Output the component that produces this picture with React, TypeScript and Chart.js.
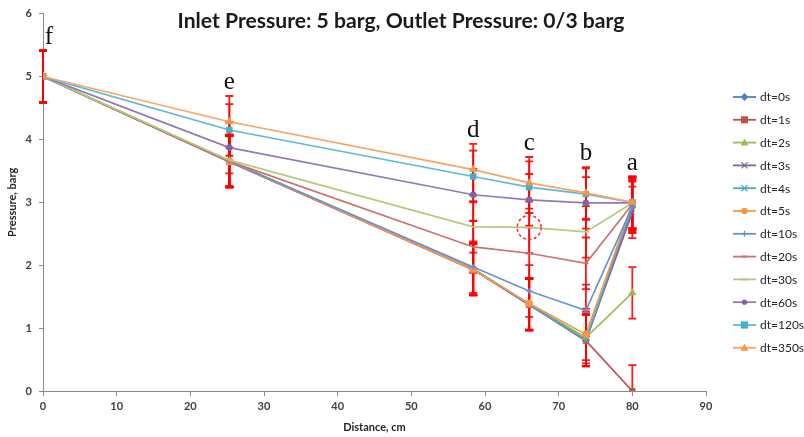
import React, { useEffect, useRef } from 'react';
import { Chart, registerables } from 'chart.js';

Chart.register(...registerables);

// ---------- data ----------
const distances = [0, 25.3, 58.4, 66, 73.7, 80];
const pointLetters = ['f', 'e', 'd', 'c', 'b', 'a'];
const errorMargins = [0.41, 0.41, 0.41, 0.41, 0.41, 0.41];

const seriesLabels = ['dt=0s', 'dt=1s', 'dt=2s', 'dt=3s', 'dt=4s', 'dt=5s', 'dt=10s', 'dt=20s', 'dt=30s', 'dt=60s', 'dt=120s', 'dt=350s'];

const dt0 = [5, 3.65, 1.94, 1.38, 0.8, 2.92];
const dt1 = [5, 3.64, 1.93, 1.37, 0.8, 0.0];
const dt2 = [5, 3.66, 1.94, 1.38, 0.85, 1.56];
const dt3 = [5, 3.65, 1.93, 1.37, 0.81, 2.84];
const dt4 = [5, 3.65, 1.94, 1.38, 0.81, 2.95];
const dt5 = [5, 3.65, 1.93, 1.39, 0.9, 2.98];
const dt10 = [5, 3.65, 1.97, 1.59, 1.28, 2.93];
const dt20 = [5, 3.65, 2.29, 2.19, 2.03, 2.97];
const dt30 = [5, 3.67, 2.61, 2.6, 2.53, 2.99];
const dt60 = [5, 3.87, 3.12, 3.04, 2.99, 2.99];
const dt120 = [5, 4.15, 3.41, 3.24, 3.13, 3.0];
const dt350 = [5, 4.28, 3.52, 3.31, 3.15, 3.0];

const seriesValues = [dt0, dt1, dt2, dt3, dt4, dt5, dt10, dt20, dt30, dt60, dt120, dt350];

const highlightPoint = { x: 66, y: 2.6 };

const xTicks = { min: 0, max: 90, step: 10 };
const yTicks = { min: 0, max: 6, step: 1 };

const titleText = 'Inlet Pressure: 5 barg, Outlet Pressure: 0/3 barg';
const xAxisTitle = 'Distance, cm';
const yAxisTitle = 'Pressure, barg';

// ---------- styles ----------
const lineColors = ['#4F81BD', '#C0504D', '#9BBB59', '#8064A2', '#4BACC6', '#F79646', '#6A93CE', '#C9726F', '#B2CB7E', '#9479B7', '#5CBAD5', '#F9A464'];
const markerColors = ['#4F81BD', '#C0504D', '#9BBB59', '#8064A2', '#4BACC6', '#F79646', '#6A93CE', '#C9726F', '#B2CB7E', '#8064A2', '#4BACC6', '#F79646'];
const markerStyles = ['rectRot', 'rect', 'triangle', 'crossRot', 'crossRot', 'circle', 'cross', 'dash', 'dash', 'circle', 'rect', 'triangle'];
const markerRadii = [3, 3.5, 3.5, 3, 3, 3.2, 3, 2.5, 3, 2.6, 3.6, 3.6];

const FONT = 'Lato, "Open Sans", "Liberation Sans", sans-serif';

function drawMarker(ctx: CanvasRenderingContext2D, style: string, x: number, y: number, r: number, color: string) {
  ctx.save();
  ctx.fillStyle = color;
  ctx.strokeStyle = color;
  ctx.lineWidth = 1.3;
  ctx.beginPath();
  switch (style) {
    case 'circle':
      ctx.arc(x, y, r, 0, Math.PI * 2);
      ctx.fill();
      break;
    case 'rect':
      ctx.rect(x - r, y - r, 2 * r, 2 * r);
      ctx.fill();
      break;
    case 'rectRot':
      ctx.moveTo(x, y - r * 1.3);
      ctx.lineTo(x + r * 1.3, y);
      ctx.lineTo(x, y + r * 1.3);
      ctx.lineTo(x - r * 1.3, y);
      ctx.closePath();
      ctx.fill();
      break;
    case 'triangle':
      ctx.moveTo(x, y - r * 1.2);
      ctx.lineTo(x + r * 1.1, y + r * 0.8);
      ctx.lineTo(x - r * 1.1, y + r * 0.8);
      ctx.closePath();
      ctx.fill();
      break;
    case 'cross':
      ctx.moveTo(x - r, y); ctx.lineTo(x + r, y);
      ctx.moveTo(x, y - r); ctx.lineTo(x, y + r);
      ctx.stroke();
      break;
    case 'crossRot':
      ctx.moveTo(x - r, y - r); ctx.lineTo(x + r, y + r);
      ctx.moveTo(x + r, y - r); ctx.lineTo(x - r, y + r);
      ctx.stroke();
      break;
    case 'dash':
      ctx.lineWidth = 2;
      ctx.moveTo(x - r, y); ctx.lineTo(x + r, y);
      ctx.stroke();
      break;
  }
  ctx.restore();
}

const overlayPlugin = {
  id: 'overlay',
  beforeDatasetsDraw(chart: any) {
    const { ctx, chartArea, scales } = chart;
    const xs = scales.x, ys = scales.y;
    ctx.save();
    ctx.beginPath();
    ctx.rect(chartArea.left - 10, chartArea.top - 10, chartArea.width + 20, chartArea.height + 10);
    ctx.clip();
    ctx.strokeStyle = 'rgba(255,0,0,0.9)';
    ctx.lineWidth = 1.8;
    seriesValues.forEach((vals) => {
      vals.forEach((v, i) => {
        const px = xs.getPixelForValue(distances[i]);
        const e = errorMargins[i];
        const top = ys.getPixelForValue(v + e);
        const bot = ys.getPixelForValue(v - e);
        ctx.beginPath();
        ctx.moveTo(px, top); ctx.lineTo(px, bot);
        ctx.moveTo(px - 4, top); ctx.lineTo(px + 4, top);
        ctx.moveTo(px - 4, bot); ctx.lineTo(px + 4, bot);
        ctx.stroke();
      });
    });
    ctx.restore();
  },
  afterDraw(chart: any) {
    const { ctx, chartArea, scales } = chart;
    const xs = scales.x, ys = scales.y;
    ctx.save();

    // title
    let size = 19;
    ctx.font = `bold ${size}px ${FONT}`;
    const w = ctx.measureText(titleText).width;
    size = size * 447 / w;
    ctx.font = `bold ${size}px ${FONT}`;
    ctx.fillStyle = '#1a1a1a';
    ctx.textAlign = 'center';
    ctx.textBaseline = 'middle';
    ctx.fillText(titleText, 401, 21);

    // letters
    ctx.font = '25px "Liberation Serif", "DejaVu Serif", serif';
    ctx.fillStyle = '#111';
    ctx.textBaseline = 'alphabetic';
    distances.forEach((d, i) => {
      let maxV = -Infinity;
      seriesValues.forEach((vals) => { maxV = Math.max(maxV, vals[i] + errorMargins[i]); });
      const px = Math.max(xs.getPixelForValue(d), chartArea.left + 6);
      const py = ys.getPixelForValue(maxV) - 7;
      ctx.fillText(pointLetters[i], px, py);
    });

    // dashed circle
    ctx.strokeStyle = '#FF2020';
    ctx.lineWidth = 1.5;
    ctx.setLineDash([3, 2.5]);
    ctx.beginPath();
    ctx.arc(xs.getPixelForValue(highlightPoint.x), ys.getPixelForValue(highlightPoint.y), 12, 0, Math.PI * 2);
    ctx.stroke();
    ctx.setLineDash([]);

    // legend
    const lx = chartArea.right + 27;
    const ly = 97;
    const step = 22.8;
    ctx.font = `12px ${FONT}`;
    ctx.textAlign = 'left';
    ctx.textBaseline = 'middle';
    seriesLabels.forEach((label, i) => {
      const y = ly + i * step;
      ctx.strokeStyle = lineColors[i];
      ctx.lineWidth = 1.8;
      ctx.beginPath();
      ctx.moveTo(lx, y); ctx.lineTo(lx + 23, y);
      ctx.stroke();
      drawMarker(ctx, markerStyles[i], lx + 11.5, y, markerRadii[i], markerColors[i]);
      ctx.fillStyle = '#262626';
      ctx.fillText(label, lx + 27, y + 0.5);
    });
    ctx.restore();
  },
};

export default function App() {
  const ref = useRef<HTMLCanvasElement | null>(null);
  useEffect(() => {
    document.body.style.margin = '0';
    if (!ref.current) return;
    const datasets = seriesValues.map((vals, i) => ({
      label: seriesLabels[i],
      data: vals.map((v, j) => ({ x: distances[j], y: v })),
      borderColor: lineColors[i],
      backgroundColor: markerColors[i],
      pointBorderColor: markerColors[i],
      pointBackgroundColor: markerColors[i],
      pointStyle: markerStyles[i],
      pointRadius: markerRadii[i],
      pointBorderWidth: markerStyles[i] === 'dash' ? 2 : 1.3,
      borderWidth: 1.7,
      tension: 0,
      fill: false,
      order: seriesValues.length - i,
    }));
    const chart = new Chart(ref.current, {
      type: 'line',
      data: { datasets },
      plugins: [overlayPlugin],
      options: {
        responsive: false,
        animation: false,
        layout: { padding: { top: 8, right: 98, left: 0, bottom: 0 } },
        plugins: { legend: { display: false }, tooltip: { enabled: false }, title: { display: false } },
        scales: {
          x: {
            type: 'linear',
            min: xTicks.min,
            max: xTicks.max,
            ticks: { stepSize: xTicks.step, color: '#404040', font: { family: FONT, size: 11, weight: 'bold' }, padding: 4, maxRotation: 0 },
            grid: { drawOnChartArea: false, drawTicks: true, tickLength: 5, color: '#8a8a8a' },
            border: { color: '#8a8a8a', width: 1 },
            title: { display: true, text: xAxisTitle, color: '#262626', font: { family: FONT, size: 11, weight: 'bold' }, padding: { top: 0, bottom: 3 } },
            afterFit: (s: any) => { s.height = 46; },
          },
          y: {
            type: 'linear',
            min: yTicks.min,
            max: yTicks.max,
            ticks: { stepSize: yTicks.step, color: '#404040', font: { family: FONT, size: 11, weight: 'bold' }, padding: 7 },
            grid: { drawOnChartArea: false, drawTicks: true, tickLength: 4, color: '#8a8a8a' },
            border: { color: '#8a8a8a', width: 1 },
            title: { display: true, text: yAxisTitle, color: '#262626', font: { family: FONT, size: 11, weight: 'bold' }, padding: { top: 6, bottom: 0 } },
            afterFit: (s: any) => { s.width = 43; },
          },
        },
      },
    } as any);
    return () => chart.destroy();
  }, []);
  return (
    <div style={{ width: 804, height: 437 }}>
      <canvas ref={ref} width={804} height={437} />
    </div>
  );
}
